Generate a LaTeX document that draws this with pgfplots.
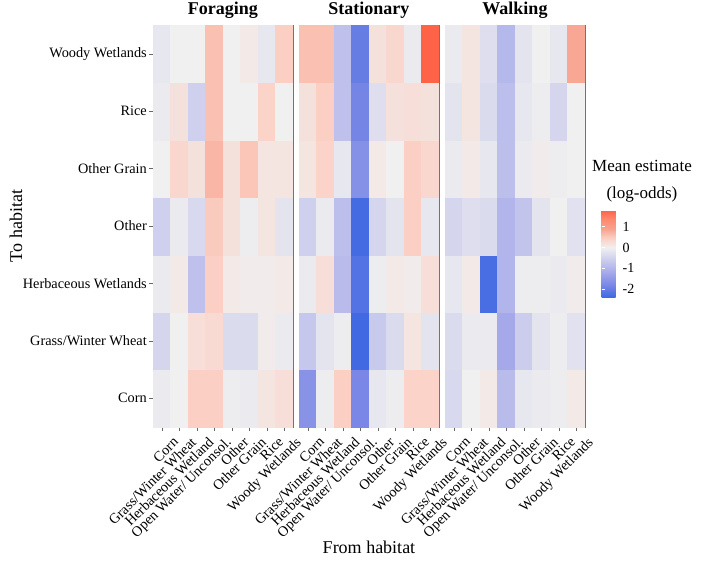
\documentclass[border=0pt]{standalone}
\usepackage{fontspec}
\setmainfont{Liberation Serif}
\usepackage{pgfplots}
\pgfplotsset{compat=1.18}
\usepgfplotslibrary{groupplots}

% blue - grey - red, steps set as in a Lab blend; 1pt = 0.01 log-odds from -2.38
\pgfplotsset{
  colormap={gg}{rgb255(0pt)=(65,105,225); rgb255(59.5pt)=(123,136,230); rgb255(119pt)=(166,170,234);
    rgb255(178.5pt)=(204,205,237); rgb255(238pt)=(240,240,240); rgb255(283pt)=(252,207,196);
    rgb255(328pt)=(246,162,142); rgb255(373pt)=(255,138,111); rgb255(418pt)=(255,99,71)},
  /pgf/number format/assume math mode=true,
}
\newcommand{\tks}{\fontsize{14.3}{15}\selectfont}

\begin{document}
\begin{tikzpicture}
\begin{groupplot}[
  group style={group size=3 by 1, horizontal sep=6pt, yticklabels at=edge left, ylabels at=edge left},
  width=140pt, height=402pt, scale only axis,
  xmin=-0.5, xmax=7.5, ymin=-0.5, ymax=6.5,
  xtick={0,...,7}, ytick={0,...,6},
  xtick pos=bottom, ytick pos=left,
  xticklabels={Corn,Grass/Winter Wheat,Herbaceous Wetland,Open Water/ Unconsol.,Other,Other Grain,Rice,Woody Wetlands},
  yticklabels={Corn,Grass/Winter Wheat,Herbaceous Wetlands,Other,Other Grain,Rice,Woody Wetlands},
  x tick label style={rotate=45, anchor=north east, font=\tks, inner sep=1pt, xshift=5pt, yshift=-10pt},
  y tick label style={font=\tks, inner sep=2pt},
  tick align=outside, major tick length=4pt, tick style={black!60},
  axis line style={black!55},
  colormap name=gg, point meta min=-2.38, point meta max=1.8,
  title style={font=\fontsize{18}{20}\selectfont\bfseries, at={(0.5,1)}, anchor=base, yshift=4pt},
  label style={font=\fontsize{18}{20}\selectfont},
  xlabel style={yshift=4pt},
  ylabel shift=-5pt,
]
\nextgroupplot[title={Foraging}, ylabel={To habitat}]
\addplot[matrix plot*, point meta=explicit, mesh/cols=8] coordinates {
(0,0)[-0.1] (1,0)[0] (2,0)[0.45] (3,0)[0.45] (4,0)[-0.05] (5,0)[-0.1] (6,0)[0.15] (7,0)[0.25]
(0,1)[-0.45] (1,1)[0] (2,1)[0.25] (3,1)[0.3] (4,1)[-0.35] (5,1)[-0.35] (6,1)[0.05] (7,1)[-0.1]
(0,2)[-0.1] (1,2)[0.1] (2,2)[-0.8] (3,2)[0.45] (4,2)[0.1] (5,2)[0.05] (6,2)[0.05] (7,2)[0.1]
(0,3)[-0.55] (1,3)[-0.1] (2,3)[-0.4] (3,3)[0.5] (4,3)[0.2] (5,3)[-0.05] (6,3)[0.15] (7,3)[-0.2]
(0,4)[0] (1,4)[0.35] (2,4)[0.2] (3,4)[0.7] (4,4)[0.2] (5,4)[0.55] (6,4)[0.15] (7,4)[0.15]
(0,5)[-0.1] (1,5)[0.2] (2,5)[-0.55] (3,5)[0.6] (4,5)[0] (5,5)[0] (6,5)[0.4] (7,5)[0]
(0,6)[-0.15] (1,6)[0] (2,6)[0] (3,6)[0.6] (4,6)[0] (5,6)[0.1] (6,6)[-0.15] (7,6)[0.45]
};
\nextgroupplot[title={Stationary}, xlabel={From habitat}, ytick=\empty]
\addplot[matrix plot*, point meta=explicit, mesh/cols=8] coordinates {
(0,0)[-1.6] (1,0)[-0.05] (2,0)[0.45] (3,0)[-1.8] (4,0)[-0.15] (5,0)[-0.05] (6,0)[0.4] (7,0)[0.4]
(0,1)[-0.7] (1,1)[-0.2] (2,1)[-0.05] (3,1)[-2.38] (4,1)[-0.65] (5,1)[-0.35] (6,1)[0.15] (7,1)[-0.2]
(0,2)[-0.1] (1,2)[0.25] (2,2)[-0.9] (3,2)[-2.2] (4,2)[-0.05] (5,2)[0.1] (6,2)[0.05] (7,2)[0.25]
(0,3)[-0.55] (1,3)[-0.1] (2,3)[-0.85] (3,3)[-2.35] (4,3)[-0.45] (5,3)[-0.2] (6,3)[0.45] (7,3)[-0.15]
(0,4)[0.15] (1,4)[0.4] (2,4)[-0.15] (3,4)[-1.65] (4,4)[0.1] (5,4)[0] (6,4)[0.45] (7,4)[0.35]
(0,5)[0.2] (1,5)[0.45] (2,5)[-0.8] (3,5)[-1.85] (4,5)[-0.3] (5,5)[0.2] (6,5)[0.25] (7,5)[0.2]
(0,6)[0.6] (1,6)[0.6] (2,6)[-0.8] (3,6)[-2.0] (4,6)[0.2] (5,6)[0.35] (6,6)[-0.1] (7,6)[1.8]
};
\nextgroupplot[title={Walking}, ytick=\empty,
  colorbar,
  colorbar style={
    at={(parent axis.north east)}, anchor=north west, xshift=8pt, yshift=-185pt,
    scale only axis, width=18pt, height=87pt,
    ytick={-2,-1,0,1}, yticklabel pos=right,
    yticklabel style={font=\fontsize{14}{15}\selectfont, text=black, inner sep=3pt},
    ytick style={white, line width=0.6pt}, tick align=inside, major tick length=3pt,
    axis line style={draw=none},
  },
]
\addplot[matrix plot*, point meta=explicit, mesh/cols=8] coordinates {
(0,0)[-0.4] (1,0)[0] (2,0)[0.1] (3,0)[-0.9] (4,0)[-0.15] (5,0)[-0.1] (6,0)[-0.05] (7,0)[0.1]
(0,1)[-0.35] (1,1)[-0.1] (2,1)[-0.1] (3,1)[-1.2] (4,1)[-0.6] (5,1)[-0.2] (6,1)[-0.05] (7,1)[-0.25]
(0,2)[-0.15] (1,2)[0.1] (2,2)[-2.3] (3,2)[-1.0] (4,2)[-0.05] (5,2)[-0.05] (6,2)[-0.1] (7,2)[0.05]
(0,3)[-0.45] (1,3)[-0.3] (2,3)[-0.35] (3,3)[-1.0] (4,3)[-0.75] (5,3)[-0.2] (6,3)[0] (7,3)[-0.25]
(0,4)[-0.1] (1,4)[0.1] (2,4)[-0.15] (3,4)[-0.85] (4,4)[-0.1] (5,4)[0.05] (6,4)[-0.05] (7,4)[0]
(0,5)[-0.2] (1,5)[0.15] (2,5)[-0.35] (3,5)[-0.85] (4,5)[-0.15] (5,5)[-0.05] (6,5)[-0.45] (7,5)[0]
(0,6)[-0.1] (1,6)[0.15] (2,6)[-0.3] (3,6)[-0.95] (4,6)[-0.2] (5,6)[0] (6,6)[-0.15] (7,6)[0.85]
};
\end{groupplot}
\node[align=center, font=\fontsize{17}{27}\selectfont] at ([xshift=57pt,yshift=-156pt]group c3r1.north east) {Mean estimate\\(log-odds)};
\pgfresetboundingbox
\path ([xshift=-153pt,yshift=25pt]group c1r1.north west) rectangle ++(708pt,-560pt);
\end{tikzpicture}
\end{document}
